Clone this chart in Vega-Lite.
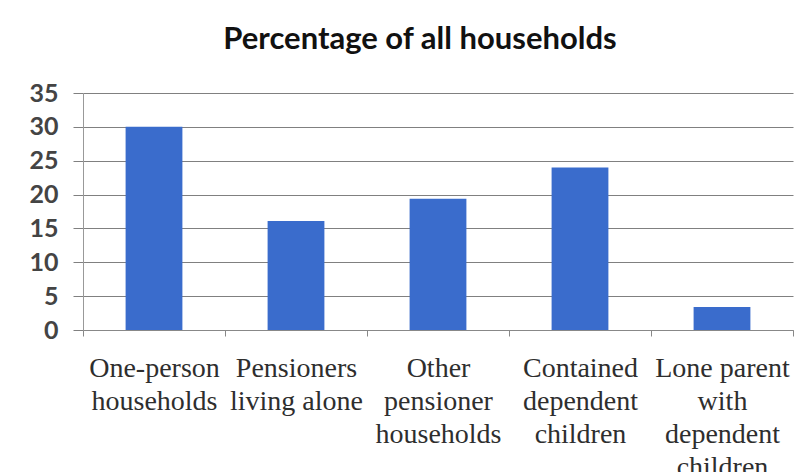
{
  "$schema": "https://vega.github.io/schema/vega-lite/v6.json",
  "width": 710,
  "height": 237,
  "autosize": {"type": "none"},
  "padding": {"left": 83, "top": 93, "right": 8, "bottom": 142},
  "background": "white",
  "title": {
    "text": "Percentage of all households",
    "font": "Lato",
    "fontSize": 31,
    "fontWeight": "bold",
    "color": "#111111",
    "anchor": "middle",
    "frame": "group",
    "baseline": "alphabetic",
    "dx": -18,
    "offset": 1
  },
  "data": {
    "values": [
      {"category": "One-person households", "percent": 30},
      {"category": "Pensioners living alone", "percent": 16.1},
      {"category": "Other pensioner households", "percent": 19.4},
      {"category": "Contained dependent children", "percent": 24},
      {"category": "Lone parent with dependent children", "percent": 3.4}
    ]
  },
  "mark": {"type": "bar", "color": "#3a6ccc", "width": {"band": 0.4}},
  "encoding": {
    "x": {
      "field": "category",
      "type": "nominal",
      "sort": null,
      "title": null,
      "scale": {"paddingInner": 0, "paddingOuter": 0},
      "axis": {
        "labelAngle": 0,
        "tickBand": "extent",
        "tickSize": 6,
        "tickColor": "#888888",
        "domainColor": "#888888",
        "labelFont": "Liberation Serif",
        "labelFontSize": 28,
        "labelColor": "#2e2e2e",
        "labelLineHeight": 33,
        "labelPadding": 18,
        "labelBaseline": "top",
        "labelLimit": 0,
        "labelOverlap": false,
        "labelExpr": "datum.value == 'One-person households' ? ['One-person','households'] : datum.value == 'Pensioners living alone' ? ['Pensioners','living alone'] : datum.value == 'Other pensioner households' ? ['Other','pensioner','households'] : datum.value == 'Contained dependent children' ? ['Contained','dependent','children'] : datum.value == 'Lone parent with dependent children' ? ['Lone parent','with','dependent','children'] : ''"
      }
    },
    "y": {
      "field": "percent",
      "type": "quantitative",
      "title": null,
      "scale": {"domain": [0, 35], "nice": false},
      "axis": {
        "values": [0, 5, 10, 15, 20, 25, 30, 35],
        "grid": true,
        "gridColor": "#808080",
        "gridWidth": 1,
        "tickSize": 10,
        "tickColor": "#808080",
        "domainColor": "#999999",
        "labelFont": "Lato",
        "labelFontSize": 25,
        "labelFontWeight": "bold",
        "labelColor": "#444444",
        "labelPadding": 15
      }
    }
  },
  "config": {"view": {"stroke": null}}
}
